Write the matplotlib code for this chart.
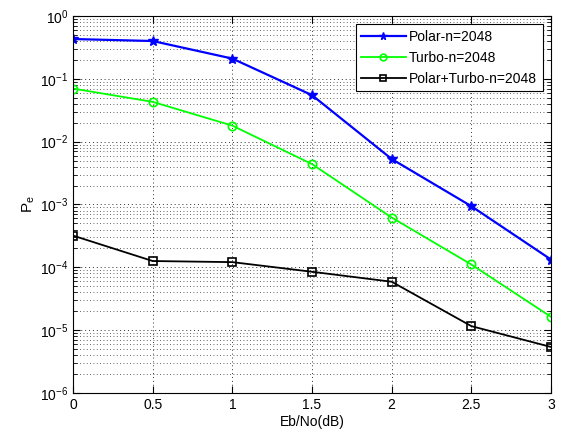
import matplotlib
matplotlib.use("Agg")
import matplotlib.pyplot as plt
import numpy as np

plt.rcParams['font.family'] = ['Liberation Sans', 'DejaVu Sans']
plt.rcParams['mathtext.fontset'] = 'custom'
plt.rcParams['mathtext.rm'] = 'Liberation Sans'
plt.rcParams['mathtext.it'] = 'Liberation Sans'

# Eb/No values (dB)
ebno = [0, 0.5, 1, 1.5, 2, 2.5, 3]

# error probabilities
pe_polar = [0.43, 0.40, 0.21, 0.055, 0.0053, 9.4e-4, 1.33e-4]
pe_turbo = [0.070, 0.043, 0.018, 0.0044, 6.2e-4, 1.11e-4, 1.63e-5]
pe_both  = [3.2e-4, 1.26e-4, 1.21e-4, 8.5e-5, 5.9e-5, 1.16e-5, 5.4e-6]

labels = ['Polar-n=2048', 'Turbo-n=2048', 'Polar+Turbo-n=2048']

fig = plt.figure(figsize=(5.63, 4.36), dpi=100)
ax = fig.add_axes([73/563, 1 - 393/436, (551-73)/563, (393-16)/436])

ax.semilogy(ebno, pe_polar, color='#0000ff', marker='*', markersize=7, lw=1.6, label=labels[0])
ax.semilogy(ebno, pe_turbo, color='#00ff00', marker='o', markersize=6, mfc='none', mew=1.2, lw=1.3, label=labels[1])
ax.semilogy(ebno, pe_both, color='k', marker='s', markersize=6, mfc='none', mew=1.2, lw=1.3, label=labels[2])

ax.set_xlim(0, 3)
ax.set_ylim(1e-6, 1)
ax.set_xticks(ebno)
ax.set_xticklabels(['0', '0.5', '1', '1.5', '2', '2.5', '3'])
ax.set_yticks([10.0**k for k in range(-6, 1)])
ax.set_yticklabels([r'$10^{%d}$' % k for k in range(-6, 1)])

dots = (0, (1, 3))
ax.grid(True, which='major', color='#303030', linestyle=dots, linewidth=0.7)
ax.grid(True, which='minor', axis='y', color='#303030', linestyle=dots, linewidth=0.6)
ax.tick_params(which='both', direction='in', top=True, right=True, labelsize=10)
ax.tick_params(which='major', length=5)
ax.tick_params(which='minor', length=3)

ax.set_xlabel('Eb/No(dB)', fontsize=10, labelpad=2)
ax.set_ylabel(r'P$_\mathrm{e}$', fontsize=11, labelpad=2)

leg = ax.legend(loc='upper right', fontsize=10, fancybox=False, framealpha=1,
                edgecolor='k', borderaxespad=0.6, handlelength=3.2,
                handletextpad=0.25, labelspacing=0.5, borderpad=0.4,
                markerscale=0.8)
leg.get_frame().set_linewidth(0.8)

fig.savefig('out.png', dpi=100)
